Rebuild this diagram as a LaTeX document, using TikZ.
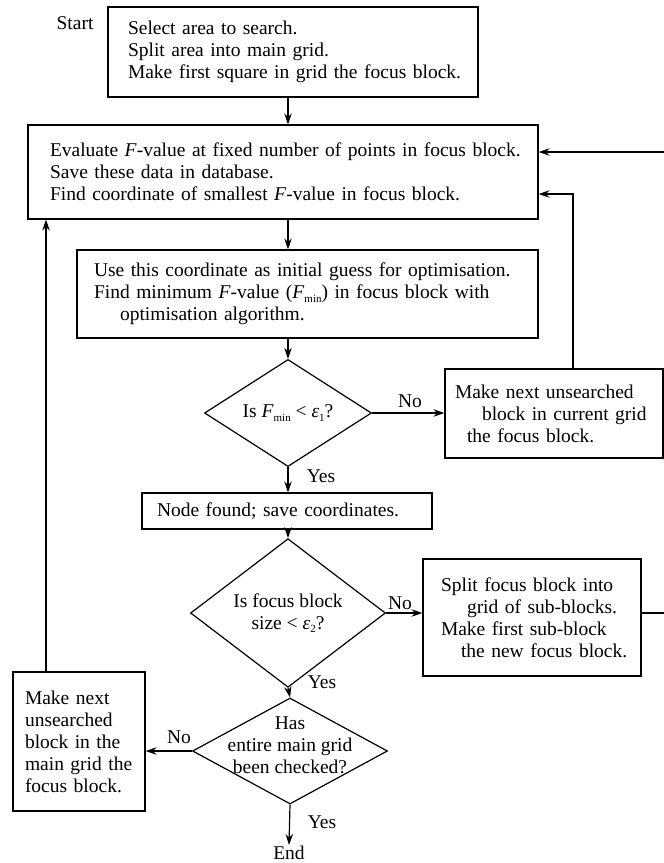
\documentclass[tikz,border=0pt]{standalone}
\usepackage{fontspec}
\setmainfont{Liberation Serif}
\usetikzlibrary{arrows.meta,shapes.geometric,calc}
\newcommand{\lowsub}[1]{\raisebox{-3.5pt}{\fontsize{11}{11}\selectfont #1}}
\newcommand{\Fmin}{\textit{F}\lowsub{min}}
\begin{document}
\begin{tikzpicture}[x=1pt,y=-1pt,
  every node/.style={font=\fontsize{19.5}{22}\selectfont},
  box/.style={draw, line width=1.2pt, rectangle, align=left, inner ysep=0pt},
  dia/.style={draw, line width=1.2pt, diamond, inner sep=0pt, align=center},
  lbl/.style={inner sep=1pt},
  arr/.style={line width=1.2pt, -{Stealth[length=11pt,width=7.5pt]}},
  ln/.style={line width=1.2pt}]
\useasboundingbox (0,0) rectangle (664,863);

\coordinate (colx) at (288,0);
\coordinate (r1) at (573,0);
\coordinate (rr) at (668,0);
\coordinate (lx) at (46,0);
\coordinate (y152) at (0,152);
\coordinate (y194) at (0,194);

\node[lbl] (start) at (75,23) {Start};
\node[box, text width=330pt, inner xsep=20pt, minimum height=90pt] (b1) at (293,52)
  {\mbox{Select area to search.}\\\mbox{Split area into main grid.}\\\mbox{Make first square in grid the focus block.}};
\node[box, text width=466pt, inner xsep=22pt, minimum height=94pt] (b2) at (283,172)
  {\mbox{Evaluate \textit{F}-value at fixed number of points in focus block.}\\\mbox{Save these data in database.}\\\mbox{Find coordinate of smallest \textit{F}-value in focus block.}};
\node[box, text width=427pt, inner xsep=17pt, minimum height=88pt] (b3) at (307.5,294)
  {\mbox{Use this coordinate as initial guess for optimisation.}\\\mbox{Find minimum \textit{F}-value (\Fmin) in focus block with}\\\mbox{\hspace*{26pt}optimisation algorithm.}};
\node[dia, minimum width=167pt, minimum height=91pt] (d1) at (288,413)
  {Is \Fmin{} < \textit{ε}\lowsub{1}?};
\node[box, text width=198pt, inner xsep=10pt, minimum height=89pt] (b4) at (554,413.5)
  {\mbox{Make next unsearched}\\\mbox{\hspace*{27pt}block in current grid}\\\mbox{\hspace*{12pt}the focus block.}};
\node[box, text width=260pt, inner xsep=15pt, minimum height=36pt] (b5) at (287,511)
  {\mbox{Node found; save coordinates.}};
\node[dia, minimum width=195pt, minimum height=106pt] (d2) at (288,613)
  {Is focus block\\size < \textit{ε}\lowsub{2}?};
\node[box, text width=182pt, inner xsep=18pt, minimum height=117pt] (b6) at (532,617.5)
  {\mbox{Split focus block into}\\\mbox{\hspace*{26pt}grid of sub-blocks.}\\\mbox{Make first sub-block}\\\mbox{\hspace*{20pt}the new focus block.}};
\node[dia, minimum width=195pt, minimum height=106pt] (d3) at (290,751) {};
\node[lbl, align=center] (d3t) at (290,745) {Has\\entire main grid\\been checked?};
\node[box, text width=108pt, inner xsep=12pt, minimum height=139pt] (b7) at (79,741.5)
  {\mbox{Make next}\\\mbox{unsearched}\\\mbox{block in the}\\\mbox{main grid the}\\\mbox{focus block.}};
\node[lbl] (end) at (289,853) {End};

% labels
\node[lbl] (no1) at (410,401) {No};
\node[lbl] (yes1) at (321,476) {Yes};
\node[lbl] (no2) at (400,603) {No};
\node[lbl] (yes2) at (322,682) {Yes};
\node[lbl] (no3) at (179,737) {No};
\node[lbl] (yes3) at (322,822) {Yes};

% connectors
\draw[arr] (b1.south -| colx) -- (b2.north -| colx);
\draw[arr] (b2.south -| colx) -- (b3.north -| colx);
\draw[arr] (b3.south -| colx) -- (d1.north);
\draw[arr] (d1.east) -- (b4.west |- d1.east);
\draw[arr] (b4.north -| r1) -- (r1 |- y194) -- (b2.east |- y194);
\draw[arr] (d1.south) -- (b5.north -| colx);
\draw[arr] (b5.south -| colx) -- (d2.north);
\draw[arr] (d2.east) -- (b6.west |- d2.east);
\draw[arr] (b6.east |- d2.east) -- (rr |- d2.east) -- (rr |- y152) -- (b2.east |- y152);
\draw[arr] (d2.south) -- (d3.north);
\draw[arr] (d3.west) -- (b7.east |- d3.west);
\draw[arr] (b7.north -| lx) -- (b2.south -| lx);
\draw[arr] (d3.south) -- (end.north);
\end{tikzpicture}
\end{document}
